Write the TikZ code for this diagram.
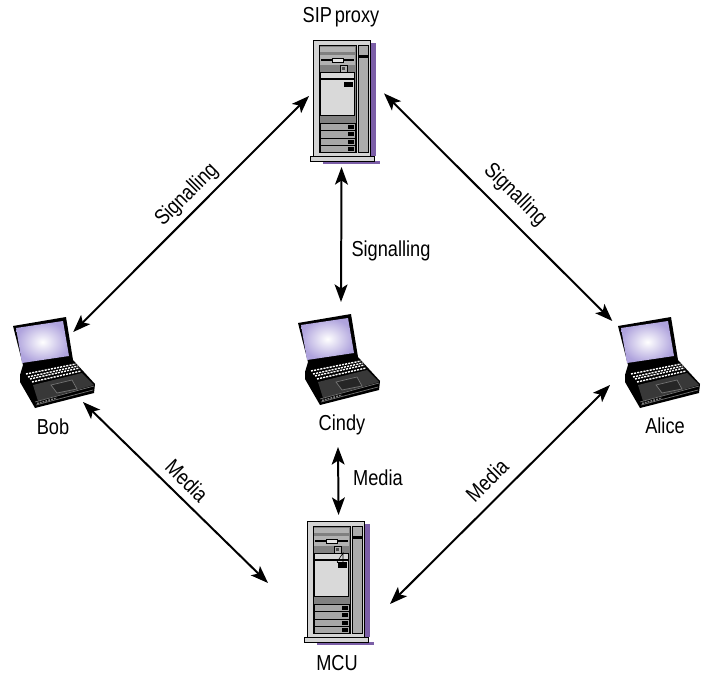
\documentclass[tikz,border=0pt]{standalone}
\usepackage{fontspec}
\setmainfont[FakeStretch=0.84]{Liberation Sans}
\usetikzlibrary{arrows.meta}
\definecolor{rackshadow}{HTML}{7B5EA7}
\definecolor{screenglow}{HTML}{AFA3DD}
\tikzset{
	link/.style = {{Stealth[length=15pt,width=11pt,inset=3.5pt]}-{Stealth[length=15pt,width=11pt,inset=3.5pt]}, line width=1.7pt},
	caption/.style = {inner sep=0pt, font=\fontsize{18.5}{22}\selectfont},
	device/.style = {inner sep=0pt, outer sep=0pt},
	rackline/.style = {line width=0.7pt, draw=black},
	laptop/.pic = {
		\fill (1,8) -- (54,-1) -- (61,42) -- (83,66) -- (82,75) -- (23,90) -- (8,64) -- (8,57) -- (11,47) -- cycle;
		\shade[inner color=white, outer color=screenglow] (4,10) -- (51,3) -- (57,38) -- (10,45) -- cycle;
		\fill[black!78] (21,67) -- (70,55) -- (82,67) -- (26,83) -- cycle;
		\foreach \xa/\ya/\xb/\yb in {14/56/64/46, 16/59/66/48, 18/61/67.5/50, 20/64/69/53}
			\draw[white, line width=1.2pt, dash pattern=on 1.8pt off 0.9pt] (\xa,\ya) -- (\xb,\yb);
		\draw[black!55, fill=black!85, line width=0.6pt] (39,67) -- (60,62) -- (65,71) -- (45,75) -- cycle;
		\draw[black!55, line width=0.6pt] (23,84) -- (82,68);
		\draw[black!55, line width=0.6pt] (24,87) -- (81,72);
		\draw[black!50, line width=1.3pt, dash pattern=on 1.5pt off 1pt] (25,85.5) -- (45,80);
	},
	serverbox/.pic = {
		\fill[rackshadow] (57,3) rectangle (63,116);
		\fill[rackshadow] (10,121) rectangle (67,124);
		\draw[rackline, fill=black!17] (0,0) rectangle (57,116);
		\draw[rackline, fill=black!50] (6,5) rectangle (43,112);
		\draw[rackline, fill=black!33] (45,5) rectangle (55,112);
		\fill (45,15) rectangle (55,18);
		\fill[black!30] (7,7) rectangle (42,12);
		\fill[black!30] (7,15) rectangle (42,25);
		\fill (8,19) rectangle (41,21);
		\draw[rackline, fill=black!10] (19,18) rectangle (30,22);
		\draw[rackline, fill=black!30] (27,25) rectangle (34,32);
		\fill[black!70] (29,27) rectangle (32,30);
		\draw[rackline, fill=black!15] (7,32) rectangle (41,75);
		\fill (8,38) rectangle (41,40);
		\fill (31,42) rectangle (40,47);
		\foreach \bay in {83,90.5,98,105}{
			\draw[rackline, fill=black!35] (7,\bay) rectangle (42,\bay+7.5);
			\fill (35,\bay+1.5) rectangle (41,\bay+5.5);
		}
		\draw[rackline, fill=black!17] (-3,116) rectangle (61,121);
	},
}
\begin{document}
\begin{tikzpicture}[x=0.03cm, y=-0.03cm]
		\useasboundingbox (0,0) rectangle (702,675);
		\fill[white] (0,0) rectangle (702,675);
		\pic at (313,40) {serverbox};
		\pic at (307,521) {serverbox};
		\draw[line width=0.5pt] (337,562) -- (343,553) -- (343,563);
		\draw[line width=0.5pt] (337,562) -- (347,562);
		\pic at (12,318) {laptop};
		\pic at (297,315) {laptop};
		\pic at (617,318) {laptop};
		\node[device, minimum width=2.25cm, minimum height=4.26cm] (proxy) at (346.5,96) {};
		\node[device, minimum width=3.66cm, minimum height=4.08cm] (mcu) at (329,583) {};
		\node[device, minimum width=1.8cm, minimum height=2.1cm] (bob) at (53,367) {};
		\node[device, minimum width=2.4cm, minimum height=3.6cm] (cindy) at (341,362) {};
		\node[device, minimum width=2.88cm, minimum height=1.92cm] (alice) at (658,353) {};
		\coordinate (cindyport) at (338,447);
		\node[caption] (proxylabel) at (341,17) {SIP\hspace{-2pt} proxy};
		\node[caption] (mculabel) at (337,663) {MCU};
		\node[caption] (boblabel) at (53,427) {Bob};
		\node[caption] (cindylabel) at (342,425) {Cindy};
		\node[caption] (alicelabel) at (665,426) {Alice};
		\draw[link] (bob.60.3) -- (proxy.west);
		\draw[link] (alice.145.2) -- (proxy.4.6);
		\draw[link] (cindy.north) -- (proxy.-94.4);
		\draw[link] (bob.south east) -- (mcu.west);
		\draw[link] (alice.south west) -- (mcu.-19);
		\draw[link] (cindyport) -- (mcu.82.5);
		\node[caption, rotate=45] (signalbob) at (187,195) {Signalling};
		\node[caption] (signalcindy) at (391,251) {Signalling};
		\node[caption, rotate=-45] (signalalice) at (515,195) {Signalling};
		\node[caption, rotate=-45] (mediabob) at (187,481) {Media};
		\node[caption] (mediacindy) at (378,478) {Media};
		\node[caption, rotate=45] (mediaalice) at (487,480) {Media};
	\end{tikzpicture}
\end{document}
